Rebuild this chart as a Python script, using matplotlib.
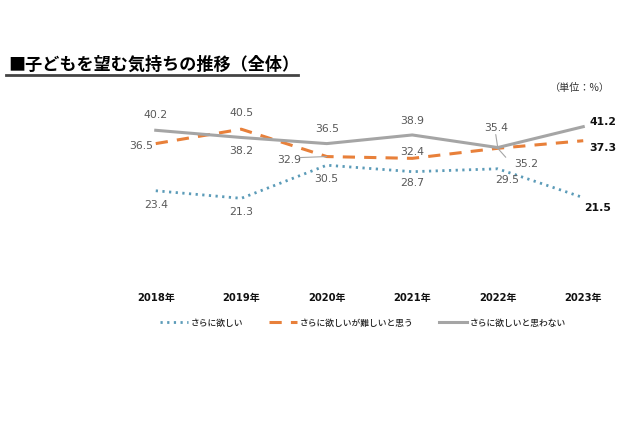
import matplotlib
matplotlib.use("Agg")
from matplotlib import pyplot as plt
from matplotlib.lines import Line2D

plt.rcParams['font.family'] = ['DejaVu Sans', 'Noto Sans CJK JP']

years = ["2018年", "2019年", "2020年", "2021年", "2022年", "2023年"]
more_kids = [23.4, 21.3, 30.5, 28.7, 29.5, 21.5]
want_but_hard = [36.5, 40.5, 32.9, 32.4, 35.2, 37.3]
dont_want = [40.2, 38.2, 36.5, 38.9, 35.4, 41.2]
series_names = ["さらに欲しい", "さらに欲しいが難しいと思う", "さらに欲しいと思わない"]

# label offsets in pixels (dx, dy) relative to each point
off_more = [(0, -14), (0, -14), (0, -14), (0, -11), (9, -11), (14, -10)]
off_hard = [(-15, -2), (0, 16), (-38, -3), (0, 6), (28, -16), (20, -7)]
off_dont = [(0, 15), (0, -14), (0, 15), (0, 14), (-2, 20), (20, 5)]

fig = plt.figure(figsize=(6.4, 4.26), dpi=100)
ax = fig.add_axes([113 / 640, 1 - 275 / 426, 513 / 640, 180 / 426])

x = list(range(len(years)))
ax.plot(x, more_kids, color="#5B9BB8", lw=2, linestyle=(0, (0.8, 1.6)),
        label=series_names[0])
ax.plot(x, want_but_hard, color="#E8803A", lw=2.2, linestyle=(0, (4, 3)),
        label=series_names[1])
ax.plot(x, dont_want, color="#A5A5A5", lw=2.2, label=series_names[2])

for vals, offs in [(more_kids, off_more), (want_but_hard, off_hard), (dont_want, off_dont)]:
    for i, v in enumerate(vals):
        last = i == len(vals) - 1
        ax.annotate("%.1f" % v, (i, v), xytext=offs[i], textcoords="offset pixels",
                    ha="center", va="center", fontsize=7.8,
                    color="#111111" if last else "#595959",
                    fontweight="bold" if last else "normal")

# leader lines
ax.annotate("", (2, want_but_hard[2]), xytext=(-27, -1), textcoords="offset pixels",
            arrowprops=dict(arrowstyle="-", color="#A5A5A5", lw=0.8, shrinkA=0, shrinkB=0))
ax.annotate("", (4, dont_want[4]), xytext=(-2, 13), textcoords="offset pixels",
            arrowprops=dict(arrowstyle="-", color="#A5A5A5", lw=0.8, shrinkA=0, shrinkB=0))
ax.annotate("", (4, want_but_hard[4]), xytext=(8, -9), textcoords="offset pixels",
            arrowprops=dict(arrowstyle="-", color="#A5A5A5", lw=0.8, shrinkA=0, shrinkB=0))

ax.set_xlim(-0.5, len(years) - 0.5)
ax.set_ylim(0, 50)
ax.set_xticks(x)
ax.set_xticklabels(years, fontweight="bold", fontsize=7.2, color="#111111")
ax.tick_params(axis="x", length=0, pad=13)
ax.set_yticks([])
for s in ax.spines.values():
    s.set_visible(False)

leg = fig.legend(loc="center", bbox_to_anchor=(363 / 640, 1 - 323 / 426), ncol=3,
                 frameon=False, handlelength=3.2, handletextpad=0.3, columnspacing=2.9,
                 prop={"family": ["Noto Sans CJK JP"], "size": 6.3, "weight": "medium"})
for t in leg.get_texts():
    t.set_color("#222222")

fig.text(8 / 640, 1 - 65 / 426, "■子どもを望む気持ちの推移（全体）", fontsize=12.3,
         fontweight="bold", family=["Noto Sans CJK JP"], ha="left", va="center")
fig.add_artist(Line2D([6 / 640, 298 / 640], [1 - 74.5 / 426] * 2, color="#444444", lw=2))
fig.text(580 / 640, 1 - 88 / 426, "（単位：%）", fontsize=7.3, color="#333333",
         family=["Noto Sans CJK JP"], ha="center", va="center")

fig.savefig("out.png", dpi=100)
